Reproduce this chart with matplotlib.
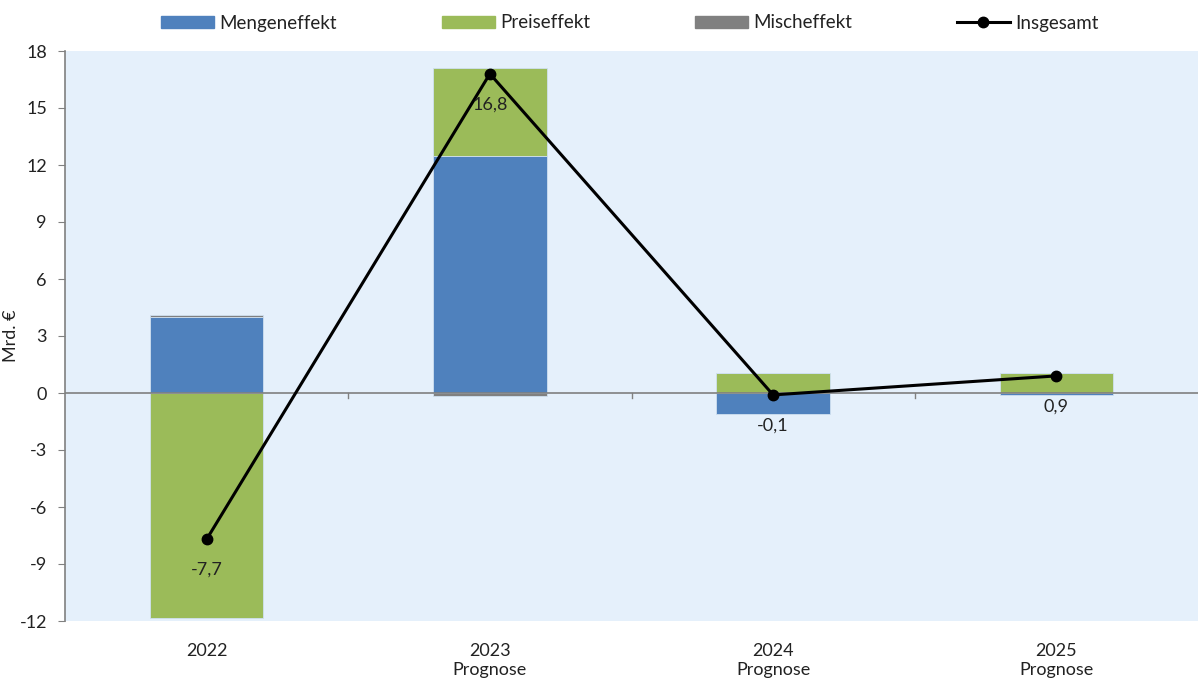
import matplotlib
matplotlib.use("Agg")
import matplotlib.pyplot as plt
import numpy as np
from matplotlib.lines import Line2D
from matplotlib.patches import Patch

plt.rcParams['font.family'] = ['Lato', 'DejaVu Sans']

categories = ["2022", "2023\nPrognose", "2024\nPrognose", "2025\nPrognose"]
menge = [4.0, 12.45, -1.1, -0.12]
preis = [-11.85, 4.65, 1.05, 1.05]
misch = [0.12, -0.18, 0.0, 0.0]
total = [-7.7, 16.8, -0.1, 0.9]
total_labels = ["-7,7", "16,8", "-0,1", "0,9"]
yticks = [-12, -9, -6, -3, 0, 3, 6, 9, 12, 15, 18]

c_menge = "#4F81BD"
c_preis = "#9BBB59"
c_misch = "#808080"

fig = plt.figure(figsize=(11.98, 6.8), dpi=100)
ax = fig.add_axes([65/1198, 59/680, 1133/1198, 570/680])
ax.set_facecolor("#E5F0FB")

x = np.arange(len(categories))
w = 0.4
pos_base = np.zeros(len(x))
neg_base = np.zeros(len(x))
for vals, col in [(menge, c_menge), (preis, c_preis), (misch, c_misch)]:
    vals = np.array(vals)
    bottoms = np.where(vals >= 0, pos_base, neg_base)
    ax.bar(x, vals, w, bottom=bottoms, color=col, edgecolor="#cfe0f0", linewidth=0.6, zorder=2)
    pos_base = pos_base + np.where(vals >= 0, vals, 0)
    neg_base = neg_base + np.where(vals < 0, vals, 0)

ax.plot(x, total, color="black", lw=2.2, marker="o", ms=7.5, zorder=4)
for xi, t, lab in zip(x, total, total_labels):
    ax.annotate(lab, (xi, t), xytext=(0, -22), textcoords="offset points",
                ha="center", va="center", fontsize=13, color="#222222", zorder=5)

ax.axhline(0, color="#808080", lw=1.2, zorder=3)
ax.set_xlim(-0.5, 3.5)
ax.set_ylim(-12, 18)
ax.set_yticks(yticks)
ax.set_yticklabels([str(v) for v in yticks], fontsize=13, color="#222222")
ax.set_xticks(x)
ax.set_xticklabels(categories, fontsize=13, color="#222222")
ax.tick_params(axis="x", length=0, pad=16)
ax.tick_params(axis="y", length=5, color="#808080", pad=8)
for xb in [0.5, 1.5, 2.5]:
    ax.plot([xb, xb], [0, -0.25], color="#808080", lw=1, zorder=3, clip_on=False)
for s in ["top", "right", "bottom"]:
    ax.spines[s].set_visible(False)
ax.spines["left"].set_color("#808080")
ax.spines["left"].set_linewidth(1.2)
ax.set_ylabel("Mrd. €", fontsize=13, color="#222222")
ax.yaxis.set_label_coords(-0.041, 0.5)

handles = [Patch(color=c_menge), Patch(color=c_preis), Patch(color=c_misch),
           Line2D([], [], color="black", lw=2.2, marker="o", ms=7.5)]
labels = ["Mengeneffekt", "Preiseffekt", "Mischeffekt", "Insgesamt"]
leg = fig.legend(handles, labels, loc="center", bbox_to_anchor=(630/1198, 1 - 23/680), ncol=4,
                 frameon=False, fontsize=13.5, handlelength=2.8, handleheight=0.65,
                 handletextpad=0.3, columnspacing=5.6)
for t in leg.get_texts():
    t.set_color("#222222")

fig.savefig("out.png", dpi=100, facecolor="white")
